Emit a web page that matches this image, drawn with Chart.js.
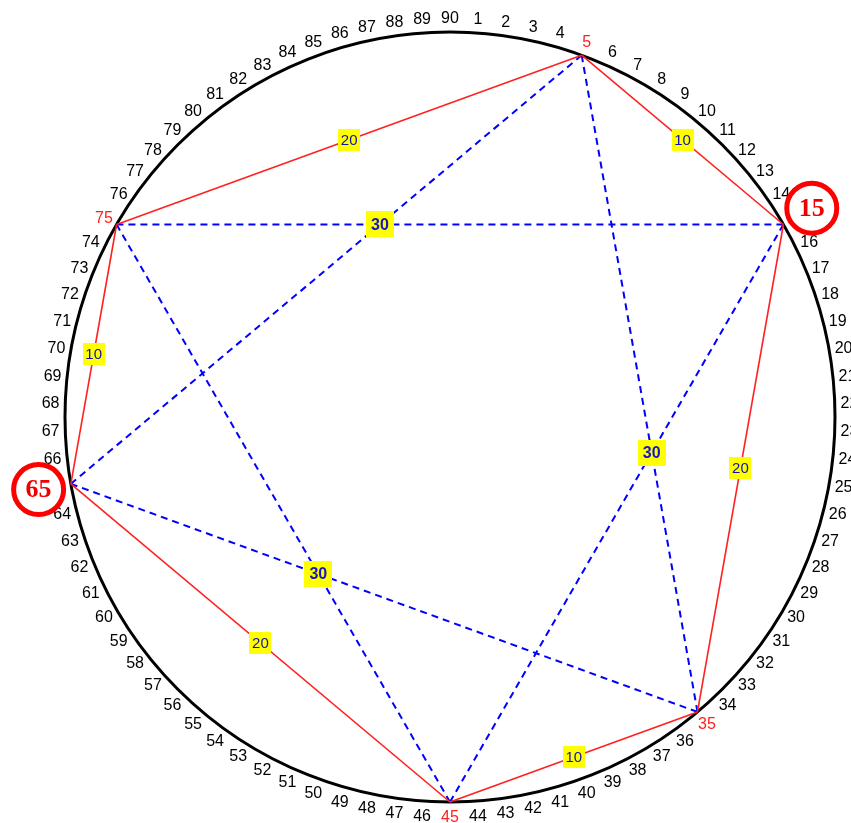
<!DOCTYPE html>
<html><head><meta charset="utf-8">
<script src="https://cdn.jsdelivr.net/npm/chart.js@4/dist/chart.umd.min.js"></script>
<style>html,body{margin:0;padding:0;background:#fff;overflow:hidden}#wrap{width:851px;height:823px}canvas{display:block}</style>
</head><body><div id="wrap"><canvas id="c" width="851" height="823"></canvas></div>
<script>
// tick labels around the ring (position numbers)
const tickLabels = [1,2,3,4,5,6,7,8,9,10,11,12,13,14,15,16,17,18,19,20,21,22,23,24,25,26,27,28,29,30,
  31,32,33,34,35,36,37,38,39,40,41,42,43,44,45,46,47,48,49,50,51,52,53,54,55,56,57,58,59,60,
  61,62,63,64,65,66,67,68,69,70,71,72,73,74,75,76,77,78,79,80,81,82,83,84,85,86,87,88,89,90];
const totalPositions = 90;
const highlighted = [5,15,35,45,65,75];
const circledMarks = [15,65];
// solid (red) chords and their distance labels
const solidChords = [[5,15],[15,35],[35,45],[45,65],[65,75],[75,5]];
const solidLabels = [10,20,10,20,10,20];
// dashed (blue) chords
const dashedChords = [[5,35],[5,65],[15,45],[15,75],[35,65],[45,75]];
// dashed labels sit where two dashed chords cross
const dashedLabelPairs = [[[15,75],[5,65]],[[5,35],[15,45]],[[45,75],[35,65]]];
const dashedLabels = [30,30,30];

function pt(pos, r){
  r = r || 1;
  const a = (pos % totalPositions) / totalPositions * Math.PI * 2;
  return {x: r*Math.sin(a), y: r*Math.cos(a)};
}
function intersect(c1, c2){
  const p1=pt(c1[0]),p2=pt(c1[1]),p3=pt(c2[0]),p4=pt(c2[1]);
  const d=(p1.x-p2.x)*(p3.y-p4.y)-(p1.y-p2.y)*(p3.x-p4.x);
  const a=p1.x*p2.y-p1.y*p2.x, b=p3.x*p4.y-p3.y*p4.x;
  return {x:(a*(p3.x-p4.x)-(p1.x-p2.x)*b)/d, y:(a*(p3.y-p4.y)-(p1.y-p2.y)*b)/d};
}

const datasets = [];
solidChords.forEach(c=>datasets.push({data:[pt(c[0]),pt(c[1])],showLine:true,borderColor:'#ff2020',borderWidth:1.6,pointRadius:0,fill:false}));
dashedChords.forEach(c=>datasets.push({data:[pt(c[0]),pt(c[1])],showLine:true,borderColor:'#0000ff',borderWidth:2,borderDash:[7,5],pointRadius:0,fill:false}));

const ringPlugin = {
  id:'ring',
  beforeDatasetsDraw(chart){
    const {ctx, scales:{x,y}} = chart;
    const cx=x.getPixelForValue(0), cy=y.getPixelForValue(0);
    const rx=x.getPixelForValue(1)-cx, ry=cy-y.getPixelForValue(1);
    ctx.save();
    ctx.beginPath(); ctx.ellipse(cx,cy,rx,ry,0,0,Math.PI*2);
    ctx.lineWidth=3; ctx.strokeStyle='#000'; ctx.stroke();
    ctx.restore();
  },
  afterDatasetsDraw(chart){
    const {ctx, scales:{x,y}} = chart;
    const P = p => ({x:x.getPixelForValue(p.x), y:y.getPixelForValue(p.y)});
    ctx.save();
    // ring numbers
    ctx.textAlign='center'; ctx.textBaseline='middle';
    ctx.font='16px "Liberation Sans"';
    tickLabels.forEach(n=>{
      const q=P(pt(n,1.038));
      ctx.fillStyle = highlighted.includes(n) ? '#ff2020' : '#000';
      ctx.fillText(String(n), q.x, q.y+1);
    });
    // solid labels at chord midpoints
    solidChords.forEach((c,i)=>{
      const a=pt(c[0]), b=pt(c[1]);
      const q=P({x:(a.x+b.x)/2,y:(a.y+b.y)/2});
      ctx.fillStyle='#ffff00'; ctx.fillRect(Math.round(q.x-11),Math.round(q.y-11),22,22);
      ctx.fillStyle='#1010b0'; ctx.font='15px "Liberation Sans"';
      ctx.fillText(String(solidLabels[i]), q.x, q.y+1);
    });
    // dashed labels at crossings
    dashedLabelPairs.forEach((pr,i)=>{
      const q=P(intersect(pr[0],pr[1]));
      ctx.fillStyle='#ffff00'; ctx.fillRect(Math.round(q.x-14),Math.round(q.y-13),28,26);
      ctx.fillStyle='#1515c8'; ctx.font='bold 16px "Liberation Sans"';
      ctx.fillText(String(dashedLabels[i]), q.x, q.y+1);
    });
    // circled marks
    circledMarks.forEach(n=>{
      const q=P(pt(n,1.085));
      ctx.beginPath(); ctx.arc(q.x,q.y,25,0,Math.PI*2);
      ctx.fillStyle='#fff'; ctx.fill();
      ctx.lineWidth=5; ctx.strokeStyle='#ff0000'; ctx.stroke();
      ctx.fillStyle='#ee0000'; ctx.font='bold 26px "Liberation Serif"';
      ctx.fillText(String(n), q.x, q.y+1);
    });
    ctx.restore();
  }
};

const CX=450, CY=417, R=385, W=851, H=823;
new Chart(document.getElementById('c'), {
  type:'scatter',
  data:{datasets},
  options:{
    responsive:false, animation:false, devicePixelRatio:1,
    layout:{padding:0},
    scales:{
      x:{type:'linear',display:false,min:-CX/R,max:(W-CX)/R},
      y:{type:'linear',display:false,min:-(H-CY)/R,max:CY/R}
    },
    plugins:{legend:{display:false},tooltip:{enabled:false}},
    elements:{line:{tension:0}}
  },
  plugins:[ringPlugin]
});
</script></body></html>
